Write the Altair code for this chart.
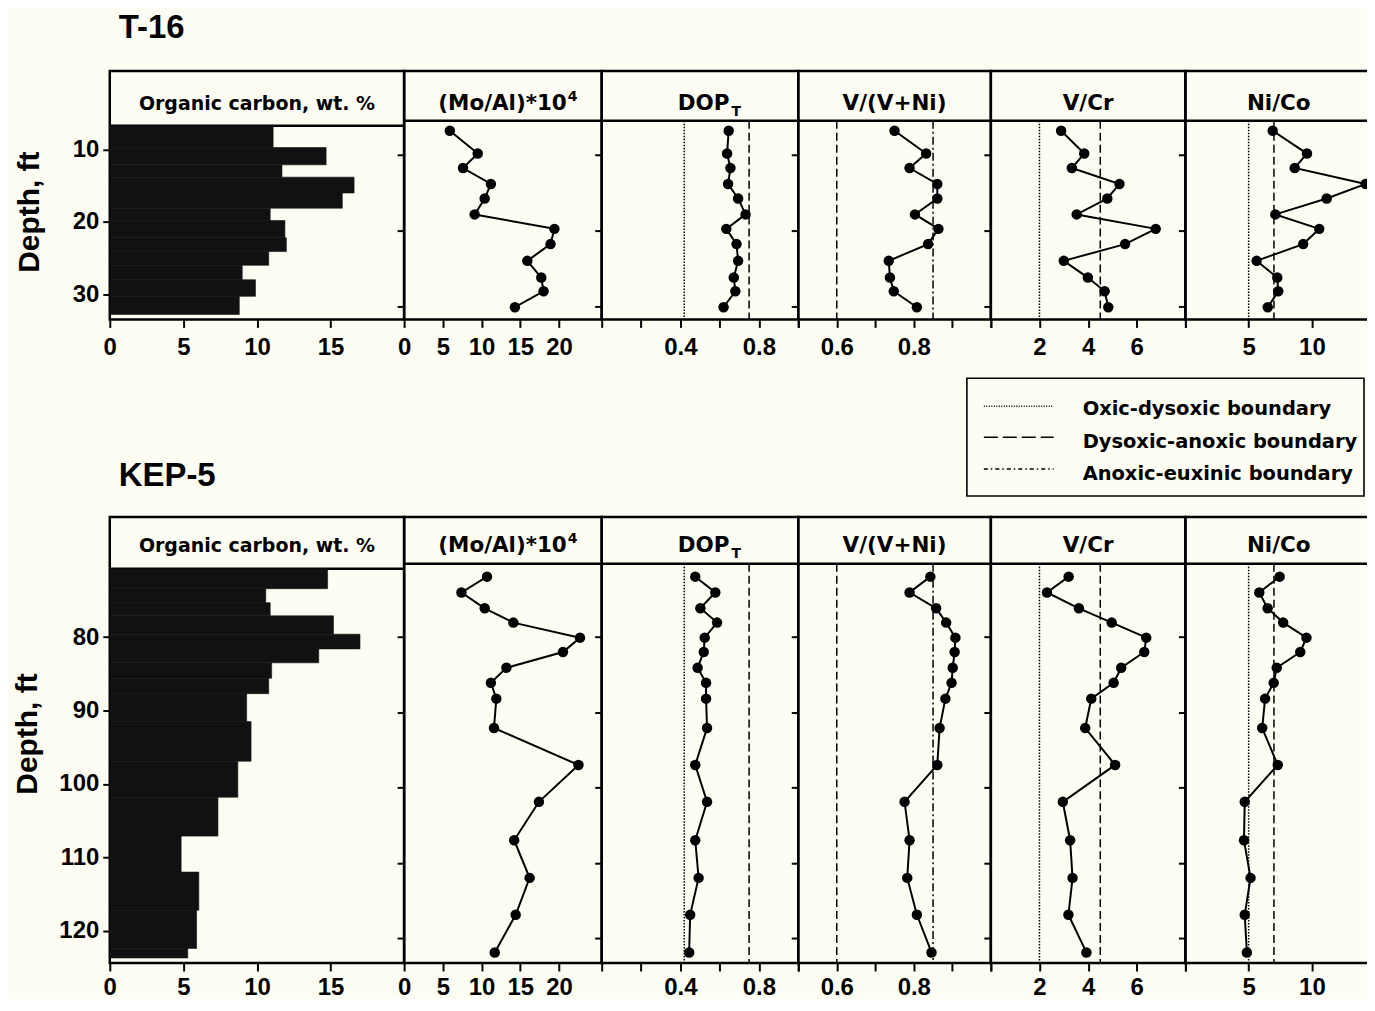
import altair as alt
import pandas as pd

# ---------------- data: well T-16 ----------------
T16_DEPTH = [6.9, 9.9, 11.8, 13.9, 15.8, 17.9, 19.8, 21.8, 24.0, 26.2, 28.0, 30.1]
T16_OC_TOP = [5.6, 8.6, 11.0, 12.7, 14.9, 17.0, 18.7, 21.1, 23.0, 24.9, 26.9, 29.2]
T16_OC_BOTTOM = [8.6, 11.0, 12.7, 14.9, 17.0, 18.7, 21.1, 23.0, 24.9, 26.9, 29.2, 31.7]
T16_OC = [11.1, 14.7, 11.7, 16.6, 15.8, 10.9, 11.9, 12.0, 10.8, 9.0, 9.9, 8.8]
T16_MOAL = [5.9, 9.5, 7.6, 11.2, 10.4, 9.1, 19.4, 18.9, 15.9, 17.7, 18.0, 14.3]
T16_DOP = [0.646, 0.638, 0.655, 0.643, 0.694, 0.732, 0.634, 0.686, 0.694, 0.672, 0.680, 0.620]
T16_VVNI = [0.750, 0.832, 0.789, 0.861, 0.861, 0.803, 0.864, 0.837, 0.735, 0.738, 0.748, 0.808]
T16_VCR = [2.89, 3.84, 3.33, 5.29, 4.79, 3.53, 6.78, 5.52, 3.00, 3.99, 4.68, 4.83]
T16_NICO = [6.90, 9.61, 8.64, 14.25, 11.17, 7.11, 10.58, 9.31, 5.63, 7.26, 7.34, 6.51]

# ---------------- data: well KEP-5 ----------------
KEP_DEPTH = [72.0, 74.1, 76.2, 78.1, 80.1, 82.0, 84.1, 86.1, 88.2, 92.1, 97.0, 101.9, 107.0, 112.0, 116.9, 121.9]
KEP_OC_TOP = [70.3, 73.0, 74.9, 76.7, 79.2, 81.2, 83.1, 85.2, 87.3, 91.1, 96.5, 101.4, 106.7, 111.6, 116.8, 122.0]
KEP_OC_BOTTOM = [73.0, 74.9, 76.7, 79.2, 81.2, 83.1, 85.2, 87.3, 91.1, 96.5, 101.4, 106.7, 111.6, 116.8, 122.0, 123.3]
KEP_OC = [14.8, 10.6, 10.9, 15.2, 17.0, 14.2, 11.0, 10.8, 9.3, 9.6, 8.7, 7.35, 4.85, 6.05, 5.9, 5.3]
KEP_MOAL = [10.7, 7.4, 10.4, 14.1, 22.7, 20.5, 13.2, 11.2, 11.9, 11.6, 22.5, 17.4, 14.2, 16.2, 14.4, 11.7]
KEP_DOP = [0.476, 0.578, 0.502, 0.587, 0.524, 0.519, 0.488, 0.531, 0.531, 0.536, 0.476, 0.536, 0.476, 0.493, 0.450, 0.445]
KEP_VVNI = [0.843, 0.789, 0.858, 0.884, 0.908, 0.906, 0.901, 0.898, 0.882, 0.867, 0.861, 0.776, 0.789, 0.783, 0.808, 0.846]
KEP_VCR = [3.20, 2.31, 3.62, 4.97, 6.39, 6.31, 5.36, 5.05, 4.13, 3.88, 5.11, 2.96, 3.26, 3.36, 3.19, 3.93]
KEP_NICO = [7.45, 5.84, 6.50, 7.73, 9.57, 9.08, 7.22, 6.98, 6.30, 6.07, 7.30, 4.69, 4.63, 5.15, 4.69, 4.86]

# ---------------- redox boundaries ----------------
BOUNDARY_NAMES = ["Oxic-dysoxic boundary", "Dysoxic-anoxic boundary", "Anoxic-euxinic boundary"]
DOP_BOUNDS = [0.42, 0.75]
DOP_KINDS = [BOUNDARY_NAMES[0], BOUNDARY_NAMES[1]]
VVNI_BOUNDS = [0.60, 0.85]
VVNI_KINDS = [BOUNDARY_NAMES[1], BOUNDARY_NAMES[2]]
VCR_BOUNDS = [2.0, 4.5]
VCR_KINDS = [BOUNDARY_NAMES[0], BOUNDARY_NAMES[1]]
NICO_BOUNDS = [5.0, 7.0]
NICO_KINDS = [BOUNDARY_NAMES[0], BOUNDARY_NAMES[1]]

HEADERS = ["Organic carbon, wt. %", "(Mo/Al)*10", "DOP", "V/(V+Ni)", "V/Cr", "Ni/Co"]
HEADER_SCRIPTS = ["", "4", "T", "", "", ""]
COLUMNS = ["oc", "moal", "dop", "vvni", "vcr", "nico"]

# ---------------- layout / style ----------------
FONT_T = "Liberation Sans"
FONT_H = "DejaVu Sans"
BG = "#fdfdf4"
WIDTHS = [295, 198, 197, 193, 195, 187]
X_DOMAINS = [[0, 20], [0, 25.5], [0, 1.0], [0.5, 1.0], [0, 8], [0, 14.75]]
X_TICKS = [[0, 5, 10, 15], [0, 5, 10, 15, 20], [0, 0.2, 0.4, 0.6, 0.8, 1.0],
           [0.5, 0.6, 0.7, 0.8, 0.9, 1.0], [0, 2, 4, 6, 8], [0, 5, 10]]
X_LABELED = [[0, 5, 10, 15], [0, 5, 10, 15, 20], [0.4, 0.8], [0.6, 0.8], [2, 4, 6], [5, 10]]
BOUNDS = {2: (DOP_BOUNDS, DOP_KINDS), 3: (VVNI_BOUNDS, VVNI_KINDS),
          4: (VCR_BOUNDS, VCR_KINDS), 5: (NICO_BOUNDS, NICO_KINDS)}
DASH_PANEL = [[1.5, 1.5], [8, 4], [8, 3, 2, 3]]
DASH_LEGEND = [[1, 1.5], [14, 5], [4, 3, 1.5, 3]]

dash_scale = alt.Scale(domain=BOUNDARY_NAMES, range=DASH_PANEL)


def make_row(pts, bars, well, H, HDR, YDOM, YTICKS, YOFF, HBASE, LPAD, TX, TY, WELL_Y,
             legend, anchor_y):
    pts_df = pd.DataFrame(pts)
    bar_df = pd.DataFrame(bars)
    yscale = alt.Scale(domain=YDOM, range=[HDR, H], nice=False, zero=False)
    panels = []
    for i, w in enumerate(WIDTHS):
        if i == 0:
            yaxis = alt.Axis(values=YTICKS, title="Depth, ft", titleX=TX, titleY=TY, titleAngle=270,
                             titleBaseline="alphabetic", titleFont=FONT_T, titleFontSize=30,
                             titleFontWeight="bold", titleColor="black", labelFont=FONT_T,
                             labelFontSize=24, labelFontWeight="bold", labelColor="black",
                             labelPadding=4, tickSize=7, tickWidth=2, tickColor="black",
                             tickOffset=YOFF, domain=False, grid=False)
        else:
            yaxis = alt.Axis(values=YTICKS, title="", labels=False, tickSize=7, tickWidth=2,
                             tickColor="black", domain=False, grid=False)
        shown = ",".join(str(v) for v in X_LABELED[i])
        xaxis = alt.Axis(values=X_TICKS[i], title="",
                         labelExpr=f"indexof([{shown}], datum.value) >= 0 ? datum.label : ''",
                         labelFont=FONT_T, labelFontSize=24, labelFontWeight="bold",
                         labelColor="black", labelPadding=LPAD, labelFlush=False,
                         labelOverlap=False, tickSize=8, tickWidth=2, tickColor="black",
                         domain=False, grid=False)
        xscale = alt.Scale(domain=X_DOMAINS[i], nice=False, zero=False)
        col = COLUMNS[i]
        layers = []

        hdr_df = pd.DataFrame({"title": [HEADERS[i]], "script": [HEADER_SCRIPTS[i]]})
        layers.append(alt.Chart(hdr_df).mark_rule(color="black", strokeWidth=2.5)
                      .encode(y=alt.datum(YDOM[0])))
        if HEADER_SCRIPTS[i] == "":
            layers.append(alt.Chart(hdr_df).mark_text(
                font=FONT_H, fontSize=19 if i == 0 else 21.5, fontWeight="bold", color="black",
                align="center", baseline="alphabetic")
                .encode(x=alt.value(w / 2), y=alt.value(HBASE), text="title:N"))
        else:
            anchor = 163 if i == 1 else 128
            sdy = -9 if i == 1 else 6
            sx = anchor + 1 if i == 1 else anchor + 2
            layers.append(alt.Chart(hdr_df).mark_text(
                font=FONT_H, fontSize=21.5, fontWeight="bold", color="black",
                align="right", baseline="alphabetic")
                .encode(x=alt.value(anchor), y=alt.value(HBASE), text="title:N"))
            layers.append(alt.Chart(hdr_df).mark_text(
                font=FONT_H, fontSize=14, fontWeight="bold", color="black",
                align="left", baseline="alphabetic")
                .encode(x=alt.value(sx), y=alt.value(HBASE + sdy), text="script:N"))

        if i in BOUNDS:
            vals, kinds = BOUNDS[i]
            bdf = pd.DataFrame({"value": vals, "kind": kinds})
            layers.append(alt.Chart(bdf).mark_rule(color="black", strokeWidth=1.5).encode(
                x=alt.X("value:Q", scale=xscale, axis=xaxis),
                y=alt.datum(YDOM[0]), y2=alt.datum(YDOM[1]),
                strokeDash=alt.StrokeDash("kind:N", scale=dash_scale, legend=None)))

        if i == 0:
            layers.append(alt.Chart(bar_df).mark_bar(
                color="#111111", stroke="#111111", strokeWidth=0.6, orient="horizontal").encode(
                x=alt.X("oc:Q", scale=xscale, axis=xaxis),
                y=alt.Y("top:Q", scale=yscale, axis=yaxis),
                y2="bottom:Q"))
            wdf = pd.DataFrame({"well": [well]})
            layers.append(alt.Chart(wdf).mark_text(
                font=FONT_T, fontSize=33, fontWeight="bold", color="black",
                align="left", baseline="alphabetic")
                .encode(x=alt.value(9), y=alt.value(WELL_Y), text="well:N"))
            # invisible page-extent anchor (keeps the page inside the window)
            layers.append(alt.Chart(wdf).mark_rule(color=BG, strokeWidth=1)
                          .encode(x=alt.value(-100), x2=alt.value(-99), y=alt.value(anchor_y)))
        else:
            xenc = alt.X(f"{col}:Q", scale=xscale, axis=xaxis)
            yenc = alt.Y("depth:Q", scale=yscale, axis=yaxis)
            layers.append(alt.Chart(pts_df).mark_line(color="black", strokeWidth=2)
                          .encode(x=xenc, y=yenc, order="depth:Q"))
            layers.append(alt.Chart(pts_df).mark_circle(color="black", size=110, opacity=1)
                          .encode(x=xenc, y=yenc))

        if legend and i == len(WIDTHS) - 1:
            ldf = pd.DataFrame({"label": BOUNDARY_NAMES})
            layers.append(alt.Chart(ldf.head(1)).mark_rect(fill=BG, stroke="black", strokeWidth=1.6)
                          .encode(x=alt.value(-219), x2=alt.value(179),
                                  y=alt.value(308), y2=alt.value(426)))
            sym_y = [336, 367, 399]
            txt_y = [345, 378, 410]
            for k, name in enumerate(BOUNDARY_NAMES):
                one = pd.DataFrame({"label": [name]})
                layers.append(alt.Chart(one).mark_rule(color="black", strokeWidth=1.5,
                                                       strokeDash=DASH_LEGEND[k])
                              .encode(x=alt.value(-202), x2=alt.value(-132), y=alt.value(sym_y[k])))
                layers.append(alt.Chart(one).mark_text(
                    font=FONT_H, fontSize=19.5, fontWeight="bold", color="black",
                    align="left", baseline="alphabetic")
                    .encode(x=alt.value(-103), y=alt.value(txt_y[k]), text="label:N"))

        panels.append(alt.layer(*layers).properties(width=w, height=H))
    return panels


row1 = make_row(
    {"depth": T16_DEPTH, "moal": T16_MOAL, "dop": T16_DOP, "vvni": T16_VVNI,
     "vcr": T16_VCR, "nico": T16_NICO},
    {"top": T16_OC_TOP, "bottom": T16_OC_BOTTOM, "oc": T16_OC},
    "T-16", 249, 50, [5.6, 31.7], [10, 20, 30], -8, 39, 8, -71, 141, -33, True, -64)

row2 = make_row(
    {"depth": KEP_DEPTH, "moal": KEP_MOAL, "dop": KEP_DOP, "vvni": KEP_VVNI,
     "vcr": KEP_VCR, "nico": KEP_NICO},
    {"top": KEP_OC_TOP, "bottom": KEP_OC_BOTTOM, "oc": KEP_OC},
    "KEP-5", 447, 47, [70.3, 123.3], [80, 90, 100, 110, 120], -3, 35, 5, -73, 217, -31, False,
    487)

chart = alt.concat(*row1, *row2, columns=6, spacing={"row": 198, "column": 0},
                   bounds="flush").resolve_scale(
    x="independent", y="independent").properties(
    background=BG, padding={"left": 0, "top": -4, "right": -8, "bottom": -7}
).configure_view(stroke="black", strokeWidth=2.5)

chart.save("out.html", embed_options={"renderer": "svg", "actions": False})
